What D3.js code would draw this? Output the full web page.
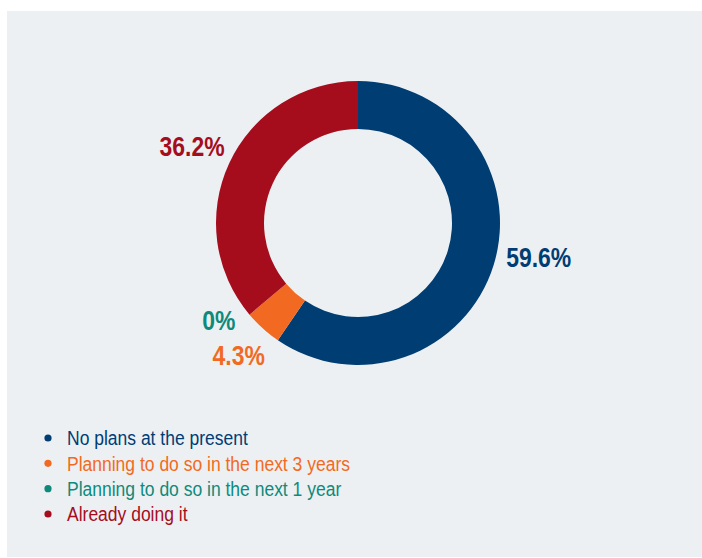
<!DOCTYPE html>
<html>
<head>
<meta charset="utf-8">
<script src="https://cdn.jsdelivr.net/npm/d3@7"></script>
<style>
  html, body { margin: 0; padding: 0; background: #ffffff; }
  svg { display: block; }
  text { font-family: "Liberation Sans", Arial, sans-serif; }
</style>
</head>
<body>
<svg id="chart" width="702" height="558"></svg>
<script>
// Survey answers, share of respondents (%)
const categories = [
  "No plans at the present",
  "Planning to do so in the next 3 years",
  "Planning to do so in the next 1 year",
  "Already doing it"
];
const values = [59.6, 4.3, 0, 36.2];
const valueLabels = ["59.6%", "4.3%", "0%", "36.2%"];
const colors = ["#003d73", "#f26a22", "#0e8a7b", "#a50d1d"];

const width = 702, height = 558;
const cx = 358, cy = 223;
const outerR = 142, innerR = 94;

// label radius and small nudges so neighbouring labels do not collide
const labelRadius = [184, 178, 170, 183];
const labelAngleShift = [-0.11, 0, 0.09, 0];

// condensed look: horizontal squeeze applied to the sans text
const labelSqueeze = 0.85;
const legendSqueeze = 0.875;

const svg = d3.select("#chart");

// panel background
svg.append("rect")
  .attr("x", 7).attr("y", 11)
  .attr("width", width - 7).attr("height", 546)
  .attr("fill", "#ecf0f3");

const data = categories.map((c, i) => ({ name: c, value: values[i], label: valueLabels[i], color: colors[i], i }));

const pie = d3.pie().value(d => d.value).sort(null);
const arc = d3.arc().innerRadius(innerR).outerRadius(outerR);
const arcs = pie(data);

const g = svg.append("g").attr("transform", `translate(${cx},${cy})`);

g.selectAll("path.slice")
  .data(arcs)
  .join("path")
  .attr("class", "slice")
  .attr("d", arc)
  .attr("fill", d => d.data.color);

// value labels around the ring
function labelPos(d) {
  const a = (d.startAngle + d.endAngle) / 2 + labelAngleShift[d.data.i];
  const r = labelRadius[d.data.i];
  return [Math.sin(a) * r, -Math.cos(a) * r];
}

g.selectAll("text.value")
  .data(arcs)
  .join("text")
  .attr("class", "value")
  .attr("transform", d => {
    const [x, y] = labelPos(d);
    return `translate(${x},${y}) scale(${labelSqueeze},1)`;
  })
  .attr("text-anchor", "middle")
  .attr("dy", "0.36em")
  .attr("font-size", 27)
  .attr("font-weight", "bold")
  .attr("fill", d => d.data.color)
  .text(d => d.data.label);

// legend
const legend = svg.append("g").attr("transform", "translate(48,438)");
const rowY = d3.scalePoint().domain(categories).range([0, 76]);

const rows = legend.selectAll("g.row")
  .data(data)
  .join("g")
  .attr("class", "row")
  .attr("transform", d => `translate(0,${rowY(d.name)})`);

rows.append("circle")
  .attr("r", 3.6)
  .attr("fill", d => d.color);

rows.append("text")
  .attr("transform", `translate(19,0) scale(${legendSqueeze},1)`)
  .attr("dy", "0.36em")
  .attr("font-size", 20)
  .attr("fill", d => d.color)
  .text(d => d.name);
</script>
</body>
</html>
